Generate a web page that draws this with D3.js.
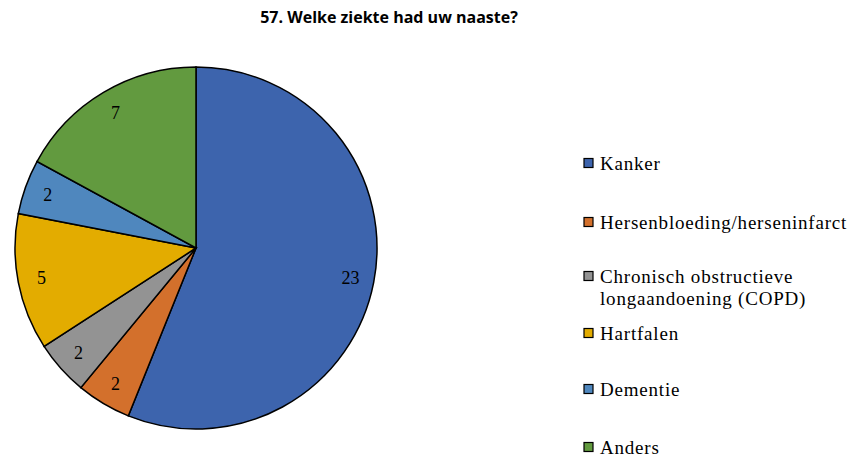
<!DOCTYPE html>
<html>
<head>
<meta charset="utf-8">
<script src="https://cdn.jsdelivr.net/npm/d3@7"></script>
<style>
  body { margin: 0; background: #fff; }
  .title { font-family: 'Open Sans', sans-serif; font-weight: bold; font-size: 16px; }
  .lbl { font-family: 'Liberation Serif', serif; font-size: 18px; fill: #000; }
  .leg { font-family: 'Liberation Serif', serif; font-size: 19px; letter-spacing: 0.8px; fill: #000; }
</style>
</head>
<body>
<div class="container"></div>
<script>
let categories = ['Kanker', 'Hersenbloeding/herseninfarct', 'Chronisch obstructieve longaandoening (COPD)', 'Hartfalen', 'Dementie', 'Anders'];
let values = [23, 2, 2, 5, 2, 7];
let colors = ['#3D64AD', '#D3702C', '#939393', '#E3AC00', '#4F87BE', '#629A3F'];

let width = 858;
let height = 459;

let svg = d3
  .select('.container')
  .append('svg')
  .attr('width', width)
  .attr('height', height);

svg
  .append('text')
  .attr('class', 'title')
  .attr('x', 389)
  .attr('y', 23)
  .attr('text-anchor', 'middle')
  .text('57. Welke ziekte had uw naaste?');

let radius = 181;
let pieG = svg.append('g').attr('transform', 'translate(196,248)');

let pie = d3.pie().sort(null).value((d) => d);
let arcs = pie(values);

let arc = d3.arc().innerRadius(0).outerRadius(radius);
let labelArc = d3.arc().innerRadius(radius * 0.87).outerRadius(radius * 0.87);

pieG
  .selectAll('path')
  .data(arcs)
  .enter()
  .append('path')
  .attr('d', arc)
  .attr('fill', (d, i) => colors[i])
  .attr('stroke', '#000')
  .attr('stroke-width', 1.5);

pieG
  .selectAll('.lbl')
  .data(arcs)
  .enter()
  .append('text')
  .attr('class', 'lbl')
  .attr('x', (d) => labelArc.centroid(d)[0])
  .attr('y', (d) => labelArc.centroid(d)[1])
  .attr('dy', '0.35em')
  .attr('text-anchor', 'middle')
  .text((d) => d.value);

// legend
let legY = [163, 222, 276, 333, 389, 447];
let legend = svg.append('g');

categories.forEach((c, i) => {
  legend
    .append('rect')
    .attr('x', 584)
    .attr('y', legY[i] - 4.5)
    .attr('width', 9)
    .attr('height', 9)
    .attr('fill', colors[i])
    .attr('stroke', '#000')
    .attr('stroke-width', 1.2);

  let lines = i === 2 ? ['Chronisch obstructieve', 'longaandoening (COPD)'] : [c];
  let t = legend
    .append('text')
    .attr('class', 'leg')
    .attr('x', 600)
    .attr('y', legY[i]);
  lines.forEach((l, j) => {
    t.append('tspan').attr('x', 600).attr('dy', j === 0 ? '0.35em' : 22).text(l);
  });
});
</script>
</body>
</html>
